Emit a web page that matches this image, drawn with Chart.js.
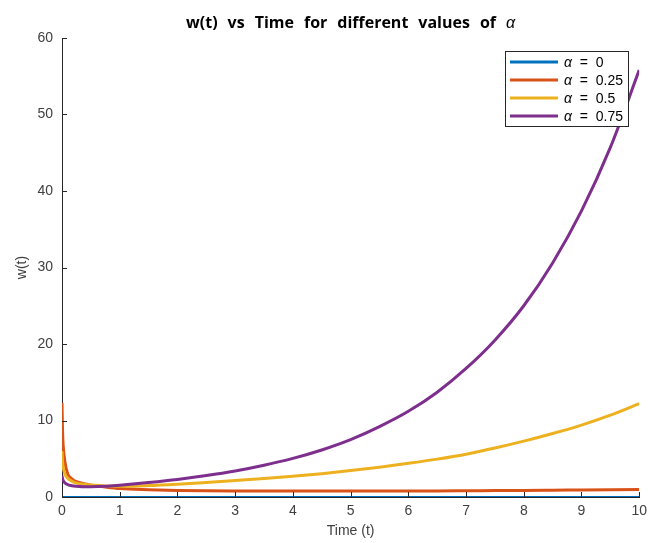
<!DOCTYPE html>
<html><head><meta charset="utf-8">
<script src="https://cdn.jsdelivr.net/npm/chart.js@4/dist/chart.umd.min.js"></script>
<style>html,body{margin:0;padding:0;background:#fff;overflow:hidden}</style>
</head><body>
<canvas id="c" width="653" height="543"></canvas>
<script>
// ---- data ----
const timeValues = [0, 0.01, 0.02, 0.05, 0.1, 0.15, 0.2, 0.3, 0.4, 0.5, 0.75, 1, 1.5, 2, 2.5, 3, 3.5, 4, 4.5, 5, 5.5, 6, 6.5, 7, 7.5, 8, 8.5, 9, 9.5, 10];
const alphaLabels = ['0', '0.25', '0.5', '0.75'];
const wAlpha0   = [0, 0, 0, 0, 0, 0, 0, 0, 0, 0, 0, 0, 0, 0, 0, 0, 0, 0, 0, 0, 0, 0, 0, 0, 0, 0, 0, 0, 0, 0];
const wAlpha025 = [12.3, 8.5, 6.8, 4.6, 3.0, 2.5, 2.2, 1.9, 1.7, 1.55, 1.3, 1.1, 0.95, 0.86, 0.81, 0.79, 0.78, 0.77, 0.77, 0.77, 0.78, 0.79, 0.8, 0.82, 0.84, 0.86, 0.89, 0.92, 0.95, 0.98];
const wAlpha05  = [6.0, 4.6, 3.9, 3.0, 2.45, 2.15, 1.95, 1.75, 1.65, 1.58, 1.45, 1.4, 1.5, 1.68, 1.9, 2.15, 2.42, 2.72, 3.05, 3.45, 3.9, 4.4, 4.95, 5.6, 6.4, 7.3, 8.3, 9.4, 10.7, 12.2];
const wAlpha075 = [2.8, 2.4, 2.15, 1.85, 1.62, 1.5, 1.44, 1.38, 1.35, 1.34, 1.4, 1.55, 1.9, 2.3, 2.8, 3.4, 4.15, 5.05, 6.15, 7.5, 9.2, 11.2, 13.7, 16.8, 20.5, 25.0, 30.6, 37.4, 45.7, 55.8];
const xTickValues = [0, 1, 2, 3, 4, 5, 6, 7, 8, 9, 10];
const yTickValues = [0, 10, 20, 30, 40, 50, 60];
const titleWords = ['w(t)', 'vs', 'Time', 'for', 'different', 'values', 'of'];
const titleSymbol = 'α';
const xTitle = 'Time (t)';
const yTitle = 'w(t)';

const seriesColors = ['#0072BD', '#D95319', '#EDB120', '#7E2F8E'];
const seriesWidths = [2, 3, 3, 3];
const allSeries = [wAlpha0, wAlpha025, wAlpha05, wAlpha075];

const FONT = "'Liberation Sans', Arial, sans-serif";
const TITLE_FONT = "'Open Sans', 'Liberation Sans', sans-serif";
const AXIS_COLOR = '#262626';
const TICK_COLOR = '#404040';

const datasets = allSeries.map((vals, i) => ({
  label: 'α = ' + alphaLabels[i],
  data: timeValues.map((t, k) => ({ x: t, y: vals[k] })),
  borderColor: seriesColors[i],
  backgroundColor: seriesColors[i],
  borderWidth: seriesWidths[i],
  pointRadius: 0,
  pointHoverRadius: 0,
  fill: false,
  tension: 0.4,
  cubicInterpolationMode: 'monotone',
  order: allSeries.length - i
}));

const titlePlugin = {
  id: 'matlabTitle',
  afterDraw(chart) {
    const ctx = chart.ctx, a = chart.chartArea;
    ctx.save();
    ctx.fillStyle = '#000';
    ctx.textBaseline = 'alphabetic';
    ctx.textAlign = 'left';
    const boldFont = 'bold 16px ' + TITLE_FONT;
    const italFont = 'italic 16px ' + FONT;
    const gap = 10;
    ctx.font = boldFont;
    const widths = titleWords.map(w => ctx.measureText(w).width);
    ctx.font = italFont;
    const symW = ctx.measureText(titleSymbol).width;
    const total = widths.reduce((s, w) => s + w, 0) + symW + gap * titleWords.length;
    let x = (a.left + a.right) / 2 - total / 2;
    const y = 28;
    ctx.font = boldFont;
    titleWords.forEach((w, i) => { ctx.fillText(w, x, y); x += widths[i] + gap; });
    ctx.font = italFont;
    ctx.fillText(titleSymbol, x, y);
    ctx.restore();
  }
};

const ticksPlugin = {
  id: 'inwardTicks',
  afterDatasetsDraw(chart) {
    const ctx = chart.ctx, a = chart.chartArea;
    const xs = chart.scales.x, ys = chart.scales.y;
    ctx.save();
    ctx.strokeStyle = AXIS_COLOR;
    ctx.lineWidth = 1;
    ctx.beginPath();
    xs.ticks.forEach(t => {
      const px = Math.round(xs.getPixelForValue(t.value)) + 0.5;
      ctx.moveTo(px, a.bottom); ctx.lineTo(px, a.bottom - 5);
    });
    ys.ticks.forEach(t => {
      const py = Math.round(ys.getPixelForValue(t.value)) + 0.5;
      ctx.moveTo(a.left, py); ctx.lineTo(a.left + 5, py);
    });
    ctx.stroke();
    ctx.restore();
  }
};

const legendPlugin = {
  id: 'insideLegend',
  afterDraw(chart) {
    const ctx = chart.ctx;
    const box = { x: 505.5, y: 51.5, w: 123, h: 75 };
    ctx.save();
    ctx.fillStyle = '#fff';
    ctx.fillRect(box.x, box.y, box.w, box.h);
    ctx.strokeStyle = AXIS_COLOR;
    ctx.lineWidth = 1;
    ctx.strokeRect(box.x, box.y, box.w, box.h);
    chart.data.datasets.forEach((ds, i) => {
      const y = 62 + i * 18;
      ctx.strokeStyle = ds.borderColor;
      ctx.lineWidth = 3;
      ctx.beginPath();
      ctx.moveTo(510, y); ctx.lineTo(558, y);
      ctx.stroke();
      ctx.fillStyle = '#000';
      ctx.textBaseline = 'middle';
      ctx.textAlign = 'left';
      const parts = ds.label.split(' = ');
      ctx.font = 'italic 14px ' + FONT;
      ctx.fillText(parts[0], 564, y + 1);
      const w = ctx.measureText(parts[0]).width;
      ctx.font = '14px ' + FONT;
      ctx.fillText('  =  ' + parts[1], 564 + w, y + 1);
    });
    ctx.restore();
  }
};

new Chart(document.getElementById('c'), {
  type: 'line',
  data: { datasets },
  options: {
    responsive: false,
    devicePixelRatio: 1,
    animation: false,
    events: [],
    layout: { padding: { top: 38, right: 11, bottom: 0, left: 0 } },
    plugins: {
      legend: { display: false },
      title: { display: false },
      tooltip: { enabled: false }
    },
    scales: {
      x: {
        type: 'linear',
        min: 0, max: 10,
        afterBuildTicks(scale) { scale.ticks = xTickValues.map(v => ({ value: v })); },
        afterFit(scale) { scale.height = 46; },
        grid: { display: false, drawTicks: false },
        border: { display: true, color: AXIS_COLOR, width: 1 },
        ticks: { color: TICK_COLOR, font: { family: FONT, size: 14 }, padding: 6, maxRotation: 0, autoSkip: false },
        title: { display: true, text: xTitle, color: TICK_COLOR, font: { family: FONT, size: 14 }, padding: { top: 0, bottom: 3 } }
      },
      y: {
        type: 'linear',
        min: 0, max: 60,
        afterBuildTicks(scale) { scale.ticks = yTickValues.map(v => ({ value: v })); },
        afterFit(scale) { scale.width = 62; },
        grid: { display: false, drawTicks: false },
        border: { display: true, color: AXIS_COLOR, width: 1 },
        ticks: { color: TICK_COLOR, font: { family: FONT, size: 14 }, padding: 9, autoSkip: false },
        title: { display: true, text: yTitle, color: TICK_COLOR, font: { family: FONT, size: 14 }, padding: { top: 14, bottom: 0 } }
      }
    }
  },
  plugins: [ticksPlugin, legendPlugin, titlePlugin]
});
</script>
</body></html>
